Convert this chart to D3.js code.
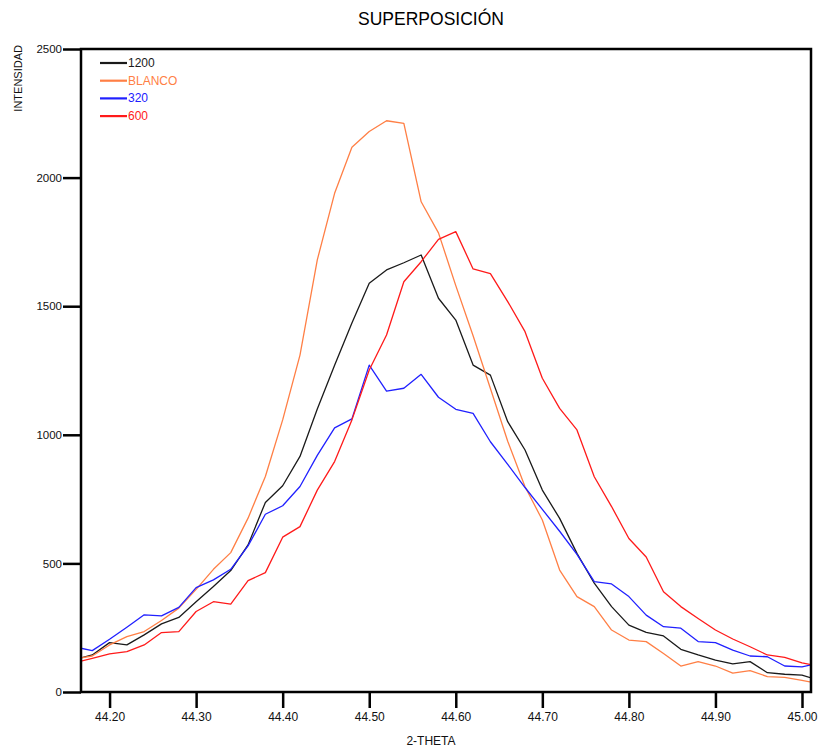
<!DOCTYPE html>
<html>
<head>
<meta charset="utf-8">
<script src="https://cdn.jsdelivr.net/npm/d3@7"></script>
<style>
  html, body { margin: 0; padding: 0; background: #fff; }
  svg { display: block; }
  text { font-family: "Liberation Sans", Arial, sans-serif; }
</style>
</head>
<body>
<svg id="chart" width="823" height="748"></svg>
<script>
// ---- data ----
const theta = [44.16, 44.18, 44.20, 44.22, 44.24, 44.26, 44.28, 44.30, 44.32, 44.34,
               44.36, 44.38, 44.40, 44.42, 44.44, 44.46, 44.48, 44.50, 44.52, 44.54,
               44.56, 44.58, 44.60, 44.62, 44.64, 44.66, 44.68, 44.70, 44.72, 44.74,
               44.76, 44.78, 44.80, 44.82, 44.84, 44.86, 44.88, 44.90, 44.92, 44.94,
               44.96, 44.98, 45.00, 45.02];

const s1200 = [127, 144, 192, 183, 222, 265, 290, 351, 410, 472,
               572, 737, 802, 916, 1100, 1270, 1435, 1589, 1641, 1669,
               1699, 1531, 1446, 1271, 1232, 1051, 941, 785, 675, 539,
               423, 332, 260, 232, 218, 166, 144, 124, 109, 118,
               75, 69, 66, 45];

const sBlanco = [129, 140, 183, 215, 235, 278, 326, 399, 477, 542,
                 676, 838, 1058, 1310, 1680, 1939, 2118, 2179, 2221, 2211,
                 1906, 1785, 1580, 1385, 1180, 975, 798, 669, 474, 371,
                 332, 241, 202, 196, 150, 101, 118, 101, 73, 83,
                 60, 57, 45, 32];

const s320 = [175, 161, 205, 252, 300, 296, 329, 406, 436, 477,
              568, 691, 724, 799, 920, 1027, 1062, 1271, 1170, 1181,
              1235, 1146, 1099, 1083, 973, 885, 795, 710, 625, 535,
              429, 420, 371, 299, 254, 248, 196, 192, 163, 140,
              137, 101, 98, 112];

const s600 = [114, 131, 148, 157, 183, 231, 235, 313, 351, 342,
              433, 464, 602, 643, 785, 896, 1058, 1252, 1388, 1595,
              1673, 1760, 1790, 1645, 1627, 1518, 1401, 1220, 1103, 1019,
              837, 721, 597, 525, 390, 332, 286, 241, 206, 176,
              144, 135, 113, 100];

const seriesNames = ["1200", "BLANCO", "320", "600"];
const seriesColors = ["#1a1a1a", "#ff7f45", "#2020ff", "#ff1a1a"];
const seriesValues = [s1200, sBlanco, s320, s600];

const xTicks = [44.20, 44.30, 44.40, 44.50, 44.60, 44.70, 44.80, 44.90, 45.00];
const yTicks = [0, 500, 1000, 1500, 2000, 2500];

// ---- layout ----
const svg = d3.select("#chart");
const L = 81, R = 811, T = 49, B = 692;

const x = d3.scaleLinear().domain([44.167, 45.0104]).range([L, R]);
const y = d3.scaleLinear().domain([0, 2500]).range([B, T]);

svg.append("defs").append("clipPath").attr("id", "plotclip")
  .append("rect").attr("x", L).attr("y", T).attr("width", R - L).attr("height", B - T);

// title
svg.append("text")
  .attr("x", 431).attr("y", 25)
  .attr("text-anchor", "middle")
  .attr("font-size", 17.5)
  .attr("fill", "#000")
  .text("SUPERPOSICIÓN");

// lines
const line = d3.line().x((d, i) => x(theta[i])).y(d => y(d));
const g = svg.append("g").attr("clip-path", "url(#plotclip)");
seriesValues.forEach((vals, k) => {
  g.append("path")
    .datum(vals)
    .attr("d", line)
    .attr("fill", "none")
    .attr("stroke", seriesColors[k])
    .attr("stroke-width", 1.3)
    .attr("stroke-linejoin", "round");
});

// frame
svg.append("rect")
  .attr("x", L).attr("y", T).attr("width", R - L).attr("height", B - T)
  .attr("fill", "none").attr("stroke", "#000").attr("stroke-width", 2.5);

// y axis
const yAxis = d3.axisLeft(y).tickValues(yTicks).tickSize(18).tickPadding(1).tickFormat(d3.format("d"));
const gy = svg.append("g").attr("transform", `translate(${L},0)`).call(yAxis);
gy.select(".domain").remove();
gy.selectAll(".tick line").attr("stroke", "#000").attr("stroke-width", 2.5);
gy.selectAll(".tick text").attr("font-size", 11.5).attr("fill", "#111")
  .attr("font-family", "Liberation Sans, Arial, sans-serif");

// x axis
const xAxis = d3.axisBottom(x).tickValues(xTicks).tickSize(16).tickPadding(4).tickFormat(d3.format(".2f"));
const gx = svg.append("g").attr("transform", `translate(0,${B})`).call(xAxis);
gx.select(".domain").remove();
gx.selectAll(".tick line").attr("stroke", "#000").attr("stroke-width", 2.5);
gx.selectAll(".tick text").attr("font-size", 12).attr("fill", "#111")
  .attr("font-family", "Liberation Sans, Arial, sans-serif");

// axis titles
svg.append("text")
  .attr("x", 431).attr("y", 745)
  .attr("text-anchor", "middle")
  .attr("font-size", 12)
  .attr("fill", "#111")
  .text("2-THETA");

svg.append("text")
  .attr("transform", "translate(22,45) rotate(-90)")
  .attr("text-anchor", "end")
  .attr("font-size", 11)
  .attr("fill", "#111")
  .text("INTENSIDAD");

// legend
const lg = svg.append("g");
seriesNames.forEach((name, k) => {
  const yy = 63 + k * 17.7;
  lg.append("line")
    .attr("x1", 100).attr("x2", 127).attr("y1", yy).attr("y2", yy)
    .attr("stroke", seriesColors[k]).attr("stroke-width", 2.2);
  lg.append("text")
    .attr("x", 128).attr("y", yy + 4)
    .attr("font-size", 12)
    .attr("fill", seriesColors[k])
    .text(name);
});
</script>
</body>
</html>
